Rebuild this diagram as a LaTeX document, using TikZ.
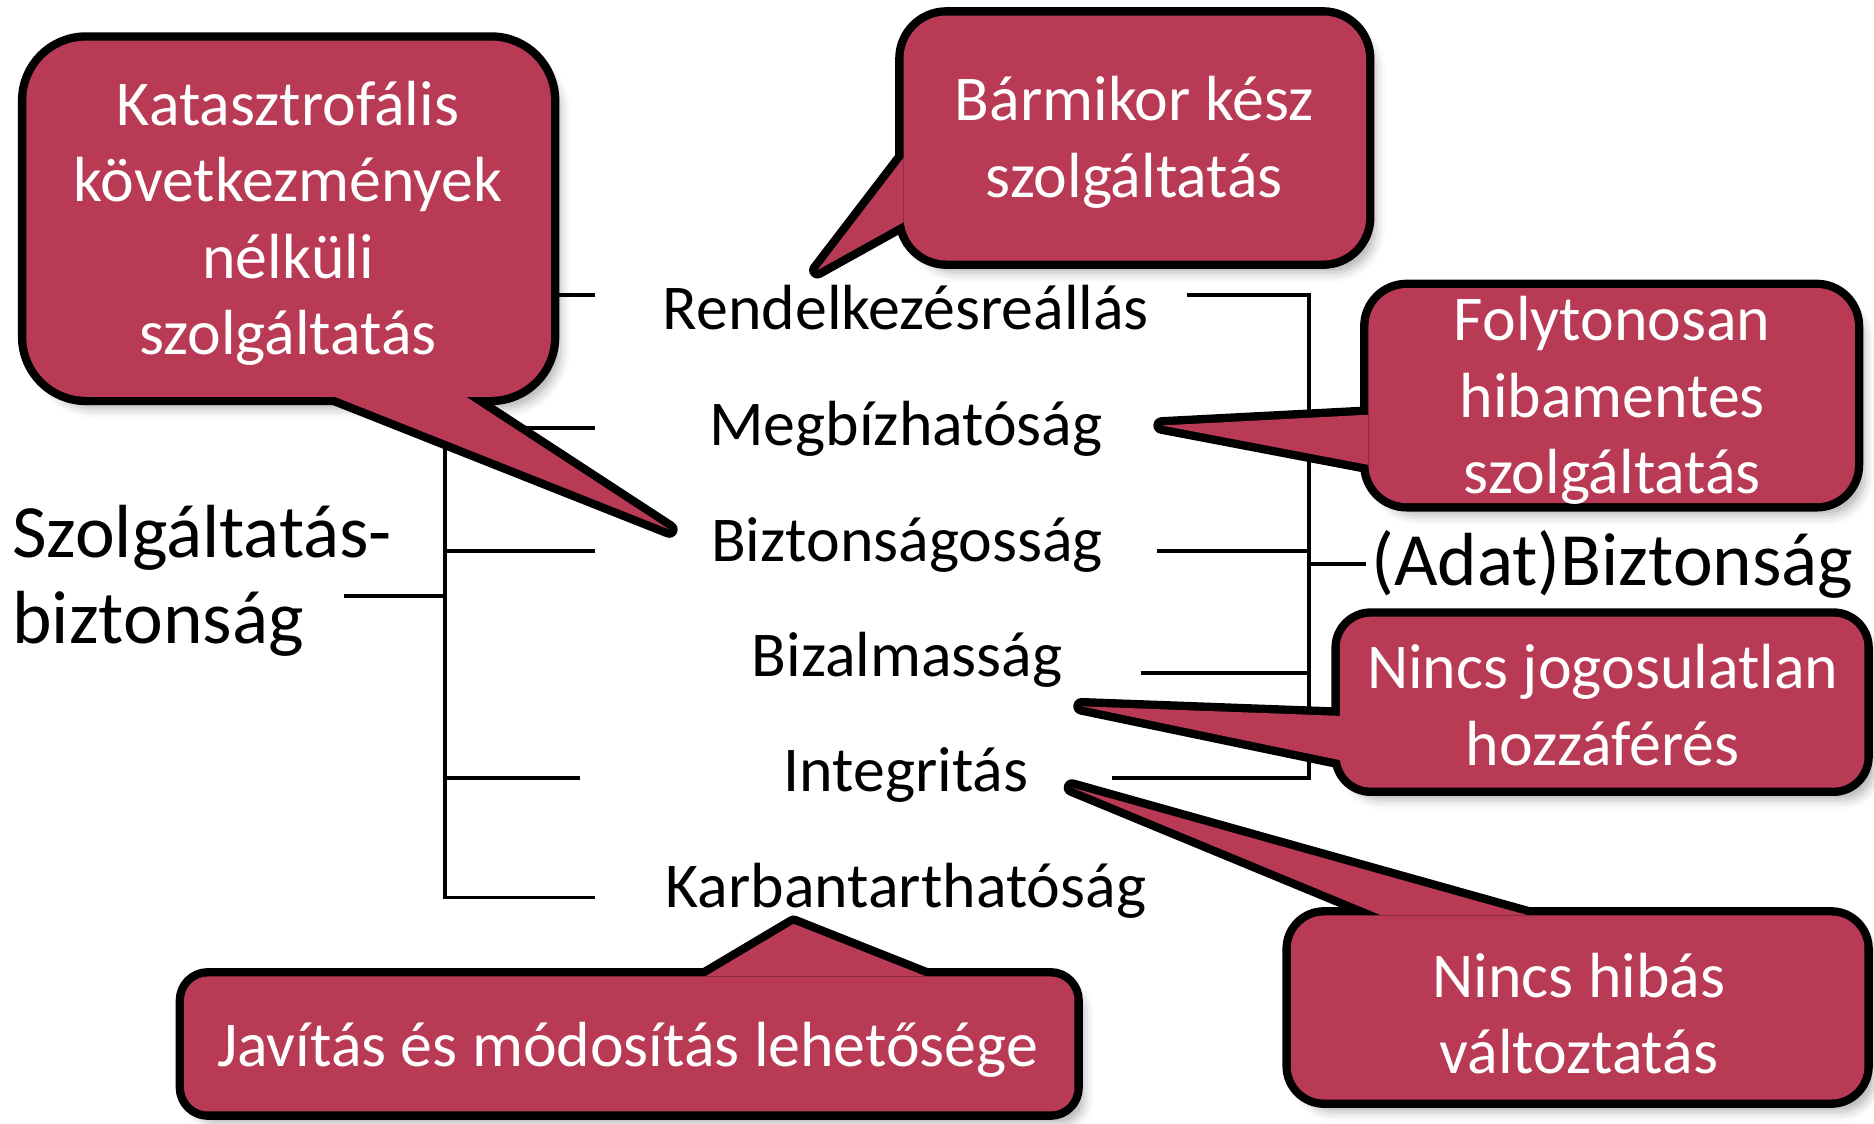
\documentclass[tikz,border=0pt]{standalone}
\usepackage{fontspec}
\setmainfont{Carlito}
\usepackage{tikz}
\usetikzlibrary{shadows.blur}
\definecolor{bubblered}{RGB}{184,58,84}

\begin{document}
\begin{tikzpicture}[x=0.5pt, y=-0.5pt,
    tree/.style={line width=1.6pt},
    bubbleedge/.style={draw=black, fill=bubblered, line width=7pt, line join=round},
    bubblefill/.style={fill=bubblered},
    item/.style={font=\fontsize{26.7}{32}\selectfont, anchor=base, inner sep=0pt},
    bubbletext/.style={font=\fontsize{26.7}{32}\selectfont, text=white, align=center, inner sep=0pt},
    rootlabel/.style={font=\fontsize{31.5}{36}\selectfont, inner sep=0pt}]

    \useasboundingbox (0,0) rectangle (1568,940);

    % Left bracket
    \draw[tree] (498,247) -| (372,751) -- (498,751);
    \draw[tree] (288,499) -- (372,499);
    \foreach \y/\x in {358/498, 461/498, 651/485} {
        \draw[tree] (372,\y) -- (\x,\y);
    }

    % Right bracket
    \draw[tree] (993,247) -| (1095,651) -- (930,651);
    \draw[tree] (1095,472) -- (1143,472);
    \foreach \y/\x in {461/968, 563/955} {
        \draw[tree] (\x,\y) -- (1095,\y);
    }

    % Callouts: box, pointer (base a, tip, base b)
    \foreach \l/\t/\r/\b/\rad/\ax/\ay/\tx/\ty/\bx/\by in {
        22/34/461/332/25/280/332/560/443/390/332,
        756/13/1143/218/18/756/132/684/226/756/186,
        1145/241/1552/421/16/1145/347/972/356/1145/389,
        1121/516/1560/659/13/1121/599/905/591/1121/636,
        1080/766/1560/920/14/1156/766/897/659/1279/766,
        154/817/899/930/10/590/817/664/773/775/817} {
        \draw[bubbleedge, rounded corners=\rad pt,
              blur shadow={shadow xshift=4pt, shadow yshift=-5pt, shadow blur radius=4pt, shadow opacity=30}]
            (\l,\t) rectangle (\r,\b);
        \draw[bubbleedge] (\ax,\ay) -- (\tx,\ty) -- (\bx,\by) -- cycle;
        \fill[bubblefill, rounded corners=\rad pt] (\l,\t) rectangle (\r,\b);
        \fill[bubblefill] (\ax,\ay) -- (\tx,\ty) -- (\bx,\by) -- cycle;
    }

    % Items
    \node[item] (rend) at (758,276) {Rendelkezésreállás};
    \node[item] (megb) at (758,373) {Megbízhatóság};
    \node[item] (bizt) at (759,470) {Biztonságosság};
    \node[item] (bizal) at (759,566) {Bizalmasság};
    \node[item] (integ) at (758,662) {Integritás};
    \node[item] (karb) at (758,759) {Karbantarthatóság};

    \node[rootlabel, align=left, anchor=west] (szolg) at (10,486) {Szolgáltatás-\\biztonság};
    \node[rootlabel, anchor=base west] (adat) at (1147,490) {(Adat)Biztonság};

    % Callout texts
    \node[bubbletext] (katatext) at (241,187) {Katasztrofális\\következmények\\nélküli\\szolgáltatás};
    \node[bubbletext] (barmtext) at (949,119) {Bármikor kész\\szolgáltatás};
    \node[bubbletext] (folytext) at (1349,335) {Folytonosan\\hibamentes\\szolgáltatás};
    \node[bubbletext] (jogtext) at (1341,590) {Nincs jogosulatlan\\hozzáférés};
    \node[bubbletext] (hibtext) at (1321,848) {Nincs hibás\\változtatás};
    \node[bubbletext, anchor=base] (javtext) at (525,892) {Javítás és módosítás lehetősége};
\end{tikzpicture}
\end{document}
